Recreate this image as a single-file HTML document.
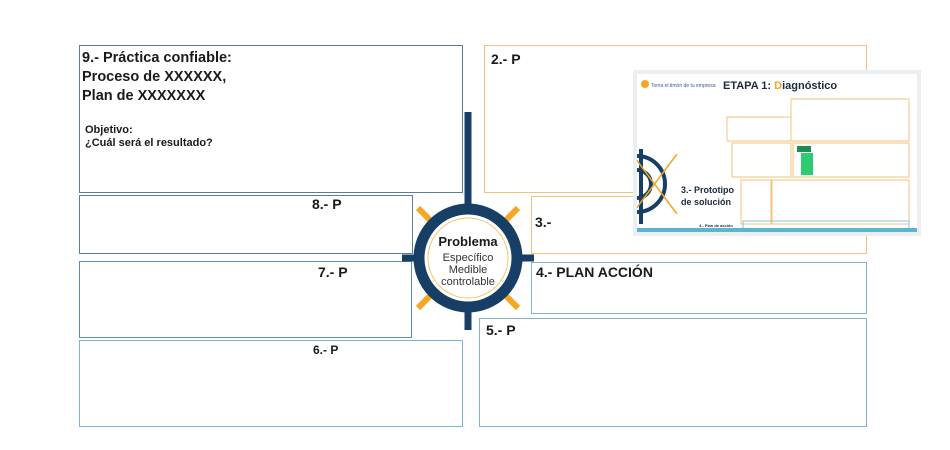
<!DOCTYPE html>
<html><head><meta charset="utf-8"><style>
body{margin:0;width:950px;height:450px;background:#fff;position:relative;overflow:hidden;font-family:"Liberation Sans",sans-serif}
.b{position:absolute;box-sizing:border-box;border:1.5px solid #7fb6cf;background:#fff}
.t{position:absolute;font-weight:bold;color:#1a1a1a}
</style></head><body>
<div class="b" style="left:79px;top:45px;width:384px;height:148px;border-color:#5a7ea0"></div>
<div class="t" style="left:82px;top:49px;font-size:14.5px;line-height:19px">9.- Práctica confiable:<br>Proceso de XXXXXX,<br>Plan de XXXXXXX</div>
<div class="t" style="left:85px;top:124px;font-size:11px;line-height:13px">Objetivo:<br>¿Cuál será el resultado?</div>
<div class="b" style="left:484px;top:45px;width:383px;height:148px;border-color:#f3c27a"></div>
<div class="t" style="left:491px;top:51px;font-size:14px">2.- P</div>
<div class="b" style="left:79px;top:195px;width:334px;height:59px;border-color:#5a7ea0"></div>
<div class="t" style="left:312px;top:196px;font-size:14px">8.- P</div>
<div class="b" style="left:531px;top:196px;width:336px;height:58px;border-color:#f3c27a"></div>
<div class="t" style="left:535px;top:214px;font-size:14px">3.-</div>
<div class="b" style="left:79px;top:261px;width:333px;height:77px;border-color:#5a8fb0"></div>
<div class="t" style="left:318px;top:264px;font-size:14px">7.- P</div>
<div class="b" style="left:531px;top:262px;width:336px;height:52px"></div>
<div class="t" style="left:536px;top:264px;font-size:14px">4.- PLAN ACCIÓN</div>
<div class="b" style="left:79px;top:340px;width:384px;height:87px"></div>
<div class="t" style="left:313px;top:343px;font-size:12px">6.- P</div>
<div class="b" style="left:479px;top:318px;width:388px;height:109px"></div>
<div class="t" style="left:486px;top:322px;font-size:14px">5.- P</div>
<svg style="position:absolute;left:0;top:0" width="950" height="450">
<g stroke="#f5a623" stroke-width="6">
<line x1="418" y1="208" x2="518" y2="308"/><line x1="518" y1="208" x2="418" y2="308"/>
</g>
<line x1="468" y1="112" x2="468" y2="330" stroke="#173f66" stroke-width="7"/>
<line x1="402" y1="258" x2="534" y2="258" stroke="#173f66" stroke-width="7"/>
<circle cx="468" cy="258" r="49" fill="#fff" stroke="#173f66" stroke-width="11"/>
<circle cx="468" cy="258" r="40" fill="#fff" stroke="#f5c66a" stroke-width="1"/>
<text x="468" y="246" text-anchor="middle" font-family="Liberation Sans" font-weight="bold" font-size="13" fill="#1a1a1a">Problema</text>
<text x="468" y="261" text-anchor="middle" font-family="Liberation Sans" font-size="11" fill="#333">Específico</text>
<text x="468" y="273" text-anchor="middle" font-family="Liberation Sans" font-size="11" fill="#333">Medible</text>
<text x="468" y="285" text-anchor="middle" font-family="Liberation Sans" font-size="11" fill="#333">controlable</text>
</svg>
<div style="position:absolute;left:633px;top:70px;width:288px;height:166px;background:#eceff1;box-sizing:border-box;padding:4px">
<svg width="280" height="158" style="background:#fff;display:block">
<circle cx="8" cy="10" r="4" fill="#f5a623"/>
<text x="14" y="13" font-size="5" fill="#3a5a9a" font-family="Liberation Sans">Toma el timón de tu empresa</text>
<text x="86" y="15" font-size="11" font-weight="bold" fill="#1a2a40" font-family="Liberation Sans">ETAPA 1: <tspan fill="#f5a623">D</tspan>iagnóstico</text>
<g fill="none" stroke="#f5c27a" stroke-width="1">
<rect x="154" y="25" width="118" height="42"/><rect x="90" y="43" width="64" height="24"/>
<rect x="95" y="69" width="59" height="34"/><rect x="156" y="69" width="116" height="34"/>
<rect x="104" y="106" width="30" height="44"/><rect x="135" y="106" width="137" height="44"/>
</g>
<rect x="106" y="147" width="166" height="8" fill="none" stroke="#7fc6d8"/>
<rect x="0" y="154" width="280" height="4" fill="#5bb4d0"/>
<rect x="160" y="72" width="14" height="6" fill="#1e8f4a"/><rect x="164" y="79" width="12" height="22" fill="#2ecc71"/>
<g stroke="#173f66" stroke-width="4" fill="none"><circle cx="0" cy="110" r="28"/><circle cx="0" cy="110" r="14"/><line x1="4" y1="75" x2="4" y2="150"/></g>
<g stroke="#f5a623" stroke-width="1.5"><line x1="-5" y1="80" x2="40" y2="140"/><line x1="40" y1="80" x2="-5" y2="140"/></g>
<text x="44" y="119" font-size="9" font-weight="bold" fill="#1a2a40" font-family="Liberation Sans">3.- Prototipo</text>
<text x="44" y="131" font-size="9" font-weight="bold" fill="#1a2a40" font-family="Liberation Sans">de solución</text>
<text x="62" y="153" font-size="4" font-weight="bold" fill="#1a2a40" font-family="Liberation Sans">4.- Plan de acción</text>
</svg></div>
</body></html>
